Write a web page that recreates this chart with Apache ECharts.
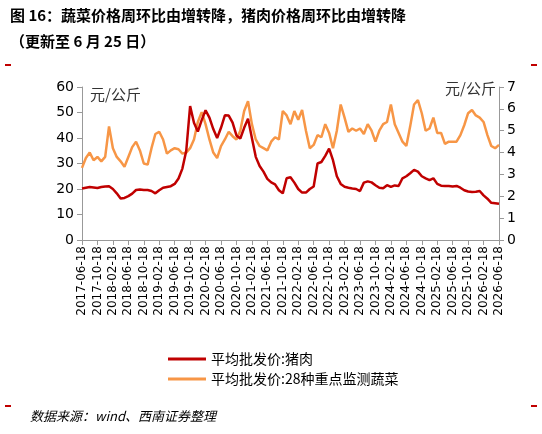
<!DOCTYPE html>
<html>
<head>
<meta charset="utf-8">
<script src="https://cdn.jsdelivr.net/npm/echarts@6/dist/echarts.min.js"></script>
<style>
  html, body { margin: 0; padding: 0; background: #fff; }
  #chart { width: 542px; height: 434px; }
</style>
</head>
<body>
<div id="chart"></div>
<script>
// monthly dates, 2017-06-18 .. 2026-06-18
const dates = [];
for (let y = 2017, m = 6; y < 2026 || (y === 2026 && m <= 6); m++) {
  if (m > 12) { m = 1; y++; }
  if (y === 2026 && m > 6) break;
  dates.push(y + '-' + String(m).padStart(2, '0') + '-18');
}

// 平均批发价:猪肉 (元/公斤, 左轴)
const pork = [
  20.2, 20.5, 20.8, 20.6, 20.4, 20.8, 21, 21.1, 20, 18.3,
  16.3, 16.5, 17.2, 18.2, 19.6, 19.8, 19.6, 19.6, 19.2, 18.3,
  19.5, 20.5, 20.8, 21.1, 22, 24.1, 28, 35, 52.5, 46,
  42.5, 47, 50.9, 48, 43.5, 40, 44, 48.9, 48.8, 46,
  41, 39.8, 44, 47.6, 40, 32.6, 29, 26.8, 24, 22.6,
  21.8, 19.5, 18.3, 24.2, 24.6, 22.5, 20, 18.6, 18.6, 20,
  21, 30, 30.6, 33, 35.8, 31.3, 25, 22, 20.9, 20.5,
  20.2, 20, 19.2, 22.5, 23, 22.6, 21.5, 20.5, 20.3, 21.5,
  20.8, 21.4, 21.2, 24.2, 25, 26.2, 27.5, 26.8, 25, 24.2,
  23.5, 24.2, 22, 21.3, 21.2, 21.2, 21, 21.2, 20.5, 19.5,
  19.0, 18.8, 18.9, 19.2, 17.5, 16.2, 14.6, 14.4, 14.2
];

// 平均批发价:28种重点监测蔬菜 (元/公斤, 右轴)
const veg = [
  3.3, 3.75, 4.0, 3.65, 3.8, 3.6, 3.8, 5.2, 4.2, 3.8,
  3.6, 3.35, 3.8, 4.25, 4.5, 4.1, 3.5, 3.45, 4.2, 4.85,
  4.95, 4.6, 3.95, 4.1, 4.2, 4.15, 3.95, 4.0, 4.2, 4.6,
  5.4, 5.85, 5.3, 4.6, 4.0, 3.75, 4.3, 4.6, 4.95, 4.75,
  4.6, 5.0, 5.9, 6.35, 5.3, 4.6, 4.3, 4.2, 4.1, 4.5,
  4.7, 4.6, 5.9, 5.7, 5.3, 5.9, 5.5, 5.95, 5.0, 4.2,
  4.35, 4.8, 4.7, 5.3, 4.9, 4.2, 5.0, 6.2, 5.6, 4.95,
  5.1, 5.0, 5.1, 4.85, 5.3, 5.0, 4.5, 5.0, 5.3, 5.4,
  6.2, 5.3, 4.9, 4.5, 4.3, 5.2, 6.2, 6.4, 5.8, 5.0,
  5.1, 5.6, 4.9, 4.9, 4.4, 4.5, 4.5, 4.5, 4.8, 5.25,
  5.8, 5.95, 5.7, 5.6, 5.4, 4.8, 4.3, 4.2, 4.35
];

const chart = echarts.init(document.getElementById('chart'));
const font = '"Noto Sans CJK SC", sans-serif';
const axisLine = { show: true, lineStyle: { color: '#999' } };

const option = {
  animation: false,
  textStyle: { fontFamily: font },
  grid: { left: 82, right: 43, top: 87, bottom: 194 },
  legend: {
    orient: 'vertical', left: 163, top: 347, itemGap: 6,
    itemWidth: 38, itemHeight: 3, icon: 'rect',
    textStyle: { fontSize: 14, color: '#000', fontFamily: font },
    data: ['平均批发价:猪肉', '平均批发价:28种重点监测蔬菜']
  },
  xAxis: {
    type: 'category', data: dates, boundaryGap: false,
    axisLine: axisLine,
    axisTick: { interval: 3, inside: false, length: 5, lineStyle: { color: '#999' } },
    axisLabel: { interval: 3, rotate: 90, fontSize: 12, color: '#000', margin: 6, fontFamily: 'DejaVu Sans' }
  },
  yAxis: [
    {
      type: 'value', min: 0, max: 60, interval: 10,
      axisLine: axisLine, axisTick: { show: true, lineStyle: { color: '#999' } },
      splitLine: { show: false },
      axisLabel: { fontSize: 14, color: '#000', fontFamily: 'DejaVu Sans' }
    },
    {
      type: 'value', min: 0, max: 7, interval: 1,
      axisLine: axisLine, axisTick: { show: true, lineStyle: { color: '#999' } },
      splitLine: { show: false },
      axisLabel: { fontSize: 14, color: '#000', fontFamily: 'DejaVu Sans' }
    }
  ],
  graphic: [
    { type: 'text', left: 10, top: 8, style: { text: '图 16：蔬菜价格周环比由增转降，猪肉价格周环比由增转降', font: 'bold 15px ' + font, fill: '#000' } },
    { type: 'text', left: 10, top: 34, style: { text: '（更新至 6 月 25 日）', font: 'bold 15px ' + font, fill: '#000' } },
    { type: 'text', left: 90, top: 87, style: { text: '元/公斤', font: '15px ' + font, fill: '#333' } },
    { type: 'text', right: 46, top: 81, style: { text: '元/公斤', font: '15px ' + font, fill: '#333' } },
    { type: 'text', left: 30, top: 410, style: { text: '数据来源：wind、西南证券整理', font: 'italic 13px ' + font, fill: '#000' } },
    { type: 'rect', left: 5, top: 64, shape: { width: 6, height: 2 }, style: { fill: '#c00000' } },
    { type: 'rect', right: 5, top: 64, shape: { width: 6, height: 2 }, style: { fill: '#c00000' } },
    { type: 'rect', left: 5, top: 405, shape: { width: 6, height: 2 }, style: { fill: '#c00000' } },
    { type: 'rect', right: 5, top: 405, shape: { width: 6, height: 2 }, style: { fill: '#c00000' } }
  ],
  series: [
    {
      name: '平均批发价:28种重点监测蔬菜', type: 'line', yAxisIndex: 1, data: veg,
      showSymbol: false, lineStyle: { width: 2.5, color: '#f79646' }, itemStyle: { color: '#f79646' }
    },
    {
      name: '平均批发价:猪肉', type: 'line', yAxisIndex: 0, data: pork,
      showSymbol: false, lineStyle: { width: 2.5, color: '#c00000' }, itemStyle: { color: '#c00000' }
    }
  ]
};

chart.setOption(option);
window.onresize = function () { chart.resize(); };
</script>
</body>
</html>
